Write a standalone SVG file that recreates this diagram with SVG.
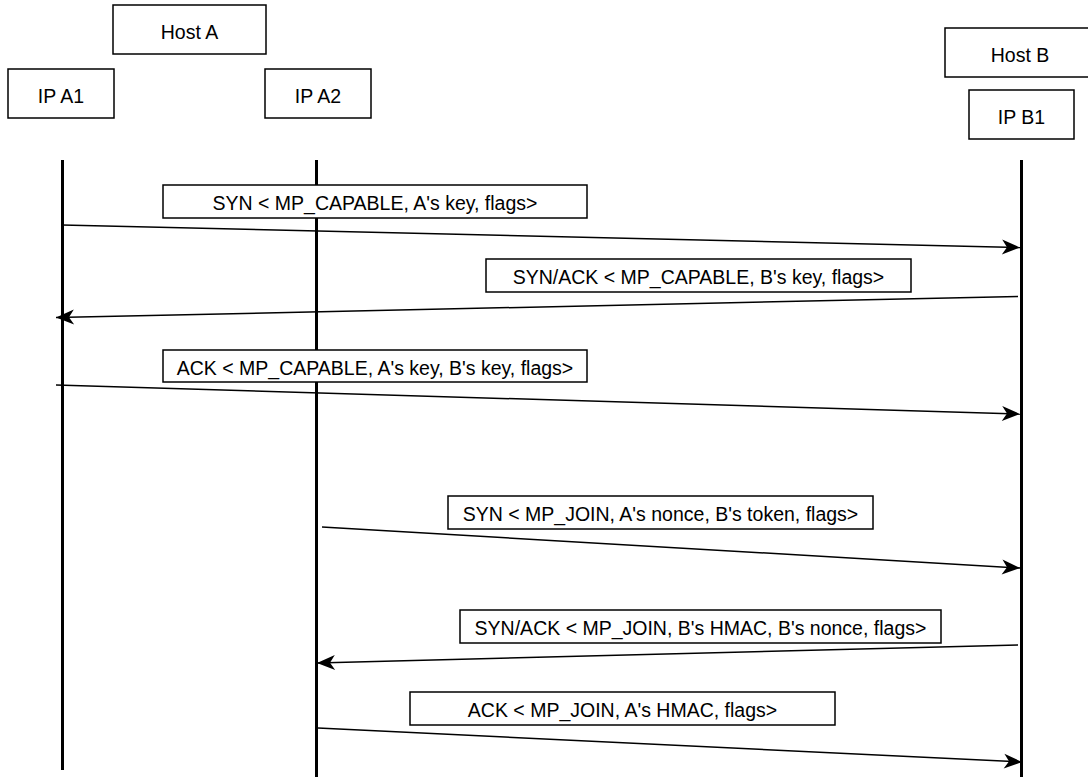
<svg xmlns="http://www.w3.org/2000/svg" width="1088" height="777" viewBox="0 0 1088 777">
<style>
.box{fill:#fff;stroke:#000;stroke-width:1.5}
.t{font-family:"Liberation Sans",Arial,sans-serif;font-size:19.5px;fill:#000;text-anchor:middle;dominant-baseline:central}
.life{stroke:#000;stroke-width:3;fill:none}
.msg{stroke:#000;stroke-width:1.5;fill:none;marker-end:url(#ah)}
</style>
<defs>
<marker id="ah" markerUnits="userSpaceOnUse" markerWidth="24" markerHeight="20" viewBox="-20 -10 22 20" refX="0" refY="0" orient="auto">
<path d="M0,0 L-18,-7.5 L-13,0 L-18,7.5 Z" fill="#000"/>
</marker>
</defs>
<g id="host-a"><rect class="box" x="113" y="5" width="153" height="49"/><text class="t" x="189.5" y="31.5">Host A</text></g>
<g id="ip-a1"><rect class="box" x="8" y="69" width="106" height="49"/><text class="t" x="61" y="95.5">IP A1</text></g>
<g id="ip-a2"><rect class="box" x="265" y="69" width="106" height="49"/><text class="t" x="318" y="95.5">IP A2</text></g>
<g id="host-b"><rect class="box" x="945" y="28" width="160" height="49"/><text class="t" x="1020" y="54.5">Host B</text></g>
<g id="ip-b1"><rect class="box" x="969" y="90" width="105" height="49"/><text class="t" x="1021.5" y="116.5">IP B1</text></g>
<g id="lifelines">
<line class="life" x1="62.5" y1="160" x2="62.5" y2="770"/>
<line class="life" x1="316.5" y1="160" x2="316.5" y2="777"/>
<line class="life" x1="1021.5" y1="160" x2="1021.5" y2="777"/>
</g>
<g id="connectors">
<line class="msg" x1="62" y1="225" x2="1020" y2="247.5"/>
<line class="msg" x1="1018" y1="296.5" x2="56" y2="317.5"/>
<line class="msg" x1="56" y1="385" x2="1020" y2="414"/>
<line class="msg" x1="322" y1="527" x2="1020" y2="568"/>
<line class="msg" x1="1018" y1="645" x2="317" y2="663"/>
<line class="msg" x1="318" y1="728" x2="1022" y2="762"/>
</g>
<g id="label-1"><rect class="box" x="163" y="185" width="424" height="33"/><text class="t" x="375" y="203">SYN &lt; MP_CAPABLE, A's key, flags&gt;</text></g>
<g id="label-2"><rect class="box" x="486" y="259" width="425" height="33"/><text class="t" x="698.5" y="277">SYN/ACK &lt; MP_CAPABLE, B's key, flags&gt;</text></g>
<g id="label-3"><rect class="box" x="163" y="350" width="424" height="32"/><text class="t" x="375" y="367.5">ACK &lt; MP_CAPABLE, A's key, B's key, flags&gt;</text></g>
<g id="label-4"><rect class="box" x="448" y="496" width="425" height="33"/><text class="t" x="660.5" y="514">SYN &lt; MP_JOIN, A's nonce, B's token, flags&gt;</text></g>
<g id="label-5"><rect class="box" x="460" y="610" width="481" height="33"/><text class="t" x="700.5" y="628">SYN/ACK &lt; MP_JOIN, B's HMAC, B's nonce, flags&gt;</text></g>
<g id="label-6"><rect class="box" x="410" y="692" width="425" height="33"/><text class="t" x="622.5" y="710">ACK &lt; MP_JOIN, A's HMAC, flags&gt;</text></g>
</svg>
